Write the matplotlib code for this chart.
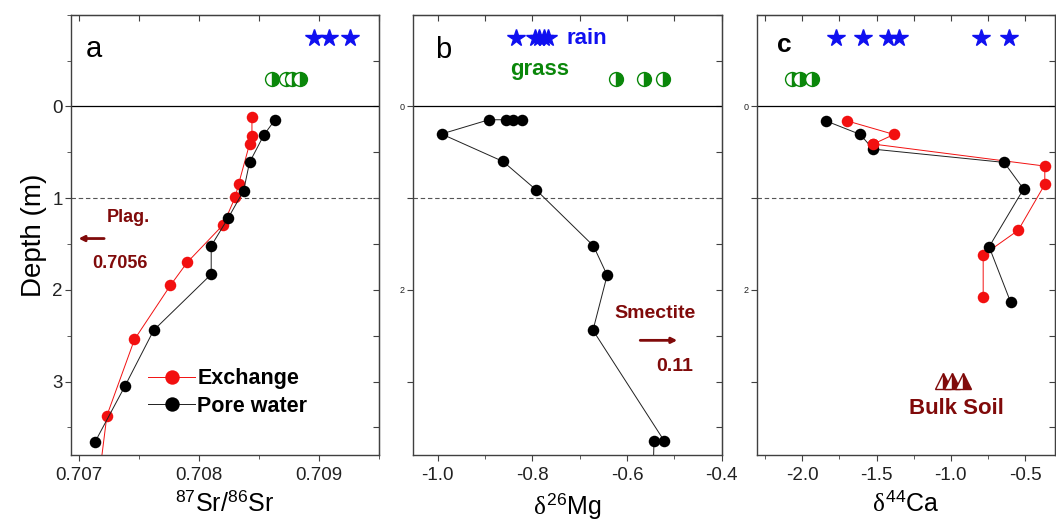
import numpy as np
import matplotlib
matplotlib.use('Agg')
import matplotlib.pyplot as plt
from matplotlib.ticker import MultipleLocator, FixedLocator, NullFormatter

plt.rcParams['font.family'] = ['Liberation Sans', 'DejaVu Sans']
plt.rcParams['mathtext.fontset'] = 'custom'
plt.rcParams['mathtext.rm'] = 'Liberation Sans'
plt.rcParams['mathtext.it'] = 'Liberation Serif'

# ---------------- data ----------------
# panel a : 87Sr/86Sr
sr_exch_x = [0.70844, 0.70844, 0.70842, 0.70833, 0.70830, 0.70820, 0.70790, 0.70776, 0.70746, 0.70723, 0.70715]
sr_exch_d = [0.12, 0.32, 0.41, 0.84, 0.99, 1.29, 1.70, 1.95, 2.54, 3.37, 4.20]
sr_pore_x = [0.70863, 0.70854, 0.70842, 0.70837, 0.70824, 0.70810, 0.70810, 0.70762, 0.70738, 0.70713]
sr_pore_d = [0.15, 0.31, 0.61, 0.92, 1.22, 1.52, 1.83, 2.44, 3.05, 3.66]
sr_rain = [0.70896, 0.70908, 0.70926]
sr_grass = [0.70861, 0.70872, 0.70877, 0.70884]

# panel b : d26Mg
mg_pore_x = [-0.821, -0.841, -0.855, -0.892, -0.992, -0.862, -0.792, -0.671, -0.642, -0.672, -0.521, -0.543, -0.546]
mg_pore_d = [0.145, 0.145, 0.145, 0.145, 0.30, 0.60, 0.91, 1.52, 1.84, 2.44, 3.65, 3.65, 4.20]
mg_rain = [-0.834, -0.795, -0.785, -0.776, -0.768]
mg_grass = [-0.623, -0.564, -0.524]

# panel c : d44Ca
ca_exch_x = [-1.701, -1.383, -1.522, -0.367, -0.367, -0.546, -0.782, -0.782]
ca_exch_d = [0.156, 0.305, 0.41, 0.65, 0.85, 1.35, 1.62, 2.08]
ca_pore_x = [-1.843, -1.610, -1.524, -0.641, -0.510, -0.742, -0.598]
ca_pore_d = [0.156, 0.305, 0.465, 0.61, 0.90, 1.53, 2.13]
ca_rain = [-1.773, -1.594, -1.421, -1.349, -0.797, -0.609]
ca_grass = [-2.071, -2.015, -1.933]
ca_bulk = [-1.055, -0.995, -0.917]

rain_d = -0.75
grass_d = -0.30
bulk_d = 2.99

RED = '#f21010'
BLUE = '#1010f0'
GREEN = '#0a870a'
DRED = '#800a0a'
SPINE = '#404040'

fig = plt.figure(figsize=(10.56, 5.21), dpi=100)
bot, hgt = 0.1267, 0.845
axa = fig.add_axes([0.0672, bot, 0.2917, hgt])
axb = fig.add_axes([0.3908, bot, 0.2926, hgt])
axc = fig.add_axes([0.7166, bot, 0.2825, hgt])


def style(ax, xmaj, xmin, ymaj_labels):
    ax.set_ylim(3.8, -1.0)
    for s in ax.spines.values():
        s.set_color(SPINE)
        s.set_linewidth(1.0)
    ax.xaxis.set_major_locator(MultipleLocator(xmaj))
    ax.xaxis.set_minor_locator(MultipleLocator(xmin))
    ax.yaxis.set_major_locator(FixedLocator([0, 1, 2, 3]))
    ax.tick_params(axis='both', which='both', direction='out', colors=SPINE, labelcolor='#222222')
    ax.tick_params(axis='x', which='major', length=4, labelsize=13.5, pad=5)
    ax.tick_params(axis='x', which='minor', length=3)
    ax.tick_params(axis='y', which='major', length=4, pad=2)
    ax.set_yticks([0, 1, 2, 3])
    ax.set_yticklabels(ymaj_labels)
    # mirrored ticks pointing inwards
    top = ax.secondary_xaxis('top')
    top.xaxis.set_major_locator(MultipleLocator(xmin))
    top.xaxis.set_major_formatter(NullFormatter())
    top.tick_params(direction='in', length=4, colors=SPINE)
    top.spines['top'].set_color(SPINE)
    right = ax.secondary_yaxis('right')
    right.yaxis.set_major_locator(MultipleLocator(0.5))
    right.yaxis.set_major_formatter(NullFormatter())
    right.tick_params(direction='in', length=4, colors=SPINE)
    right.spines['right'].set_color(SPINE)
    ax.axhline(0, color='k', lw=0.9, zorder=1)
    ax.axhline(1, color='#555555', lw=0.8, ls=(0, (4, 2.5)), zorder=1)


dot = dict(marker='o', ms=8.3, mec='none')

# ---------- panel a ----------
style(axa, 0.001, 0.0005, ['0', '1', '2', '3'])
axa.set_xlim(0.70693, 0.70950)
axa.yaxis.set_minor_locator(MultipleLocator(0.5))
axa.tick_params(axis='y', which='major', labelsize=13.5)
axa.tick_params(axis='y', which='minor', length=3)
axa.xaxis.set_major_formatter(matplotlib.ticker.FormatStrFormatter('%.3f'))
axa.plot(sr_exch_x, sr_exch_d, color=RED, lw=0.7, mfc=RED, label='Exchange', **dot)
axa.plot(sr_pore_x, sr_pore_d, color='#202020', lw=0.7, mfc='k', label='Pore water', **dot)
axa.plot(sr_rain, [rain_d] * len(sr_rain), ls='none', marker='*', ms=13, color=BLUE, mec=BLUE)
axa.plot(sr_grass, [grass_d] * len(sr_grass), ls='none', marker='o', ms=10, color=GREEN,
         fillstyle='right', mfc=GREEN, mfcalt='white', mec=GREEN, mew=1)
axa.text(0.70712, -0.63, 'a', fontsize=21, va='center', ha='center')
axa.text(0.70741, 1.21, 'Plag.', fontsize=13, fontweight='bold', color=DRED, ha='center', va='center')
axa.annotate('', xy=(0.70697, 1.44), xytext=(0.70723, 1.44),
             arrowprops=dict(arrowstyle='-|>', color=DRED, lw=2, mutation_scale=8))
axa.text(0.70734, 1.71, '0.7056', fontsize=13, fontweight='bold', color=DRED, ha='center', va='center')
axa.legend(loc='upper left', bbox_to_anchor=(0.25, 0.197), frameon=False,
           prop={'weight': 'bold', 'size': 15.5}, handlelength=2.2, handletextpad=0.1,
           labelspacing=0.3, borderpad=0, borderaxespad=0, markerscale=1.25)
axa.set_ylabel('Depth (m)', fontsize=20, labelpad=4)
axa.set_xlabel(r'$^{87}$Sr/$^{86}$Sr', fontsize=18, labelpad=5)

# ---------- panel b ----------
style(axb, 0.2, 0.1, ['0', '', '2', ''])
axb.set_xlim(-1.053, -0.40)
axb.tick_params(axis='y', which='major', labelsize=6.5)
axb.xaxis.set_major_formatter(matplotlib.ticker.FormatStrFormatter('%.1f'))
axb.plot(mg_pore_x, mg_pore_d, color='#202020', lw=0.7, mfc='k', **dot)
axb.plot(mg_rain, [rain_d] * len(mg_rain), ls='none', marker='*', ms=13, color=BLUE, mec=BLUE)
axb.plot(mg_grass, [grass_d] * len(mg_grass), ls='none', marker='o', ms=10, color=GREEN,
         fillstyle='right', mfc=GREEN, mfcalt='white', mec=GREEN, mew=1)
axb.text(-0.989, -0.62, 'b', fontsize=21, va='center', ha='center')
axb.text(-0.728, -0.74, 'rain', fontsize=16, fontweight='bold', color=BLUE, va='center', ha='left')
axb.text(-0.848, -0.40, 'grass', fontsize=16, fontweight='bold', color=GREEN, va='center', ha='left')
axb.text(-0.54, 2.26, 'Smectite', fontsize=14, fontweight='bold', color=DRED, ha='center', va='center')
axb.annotate('', xy=(-0.488, 2.55), xytext=(-0.578, 2.55),
             arrowprops=dict(arrowstyle='-|>', color=DRED, lw=2, mutation_scale=8))
axb.text(-0.50, 2.83, '0.11', fontsize=14, fontweight='bold', color=DRED, ha='center', va='center')
axb.set_xlabel(r'$\delta^{26}$Mg', fontsize=18, labelpad=5)

# ---------- panel c ----------
style(axc, 0.5, 0.25, ['0', '', '2', ''])
axc.set_xlim(-2.307, -0.298)
axc.tick_params(axis='y', which='major', labelsize=6.5)
axc.xaxis.set_major_formatter(matplotlib.ticker.FormatStrFormatter('%.1f'))
axc.plot(ca_exch_x, ca_exch_d, color=RED, lw=0.7, mfc=RED, **dot)
axc.plot(ca_pore_x, ca_pore_d, color='#202020', lw=0.7, mfc='k', **dot)
axc.plot(ca_exch_x[2:3], ca_exch_d[2:3], color=RED, ls='none', mfc=RED, **dot)
axc.plot(ca_rain, [rain_d] * len(ca_rain), ls='none', marker='*', ms=13, color=BLUE, mec=BLUE)
axc.plot(ca_grass, [grass_d] * len(ca_grass), ls='none', marker='o', ms=10, color=GREEN,
         fillstyle='right', mfc=GREEN, mfcalt='white', mec=GREEN, mew=1)
axc.plot(ca_bulk, [bulk_d] * len(ca_bulk), ls='none', marker='^', ms=11, color=DRED,
         fillstyle='right', mfc=DRED, mfcalt='white', mec=DRED, mew=1)
axc.text(-2.12, -0.67, 'c', fontsize=19, fontweight='bold', va='center', ha='center')
axc.text(-0.963, 3.29, 'Bulk Soil', fontsize=16, fontweight='bold', color=DRED, ha='center', va='center')
axc.set_xlabel(r'$\delta^{44}$Ca', fontsize=18, labelpad=5)

fig.savefig('out.png', dpi=100)
